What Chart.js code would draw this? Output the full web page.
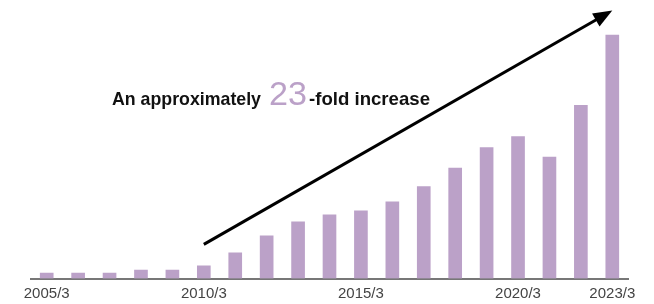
<!DOCTYPE html>
<html>
<head>
<meta charset="utf-8">
<script src="https://cdn.jsdelivr.net/npm/chart.js@4/dist/chart.umd.min.js"></script>
<style>
  html, body { margin: 0; padding: 0; background: #fff; }
  #wrap { width: 654px; height: 304px; }
</style>
</head>
<body>
<div id="wrap"><canvas id="growthChart"></canvas></div>
<script>
// fiscal years (March year-end)
var years = ["2005/3","2006/3","2007/3","2008/3","2009/3","2010/3","2011/3","2012/3","2013/3","2014/3",
	"2015/3","2016/3","2017/3","2018/3","2019/3","2020/3","2021/3","2022/3","2023/3"];
var values = [5.5, 5.5, 5.5, 8.5, 8.5, 12.5, 25.5, 42.5, 56.5, 63.5,
	67.5, 76.5, 91.5, 110, 130.5, 141.5, 121, 172.5, 242.5];
var shownTicks = ["2005/3","2010/3","2015/3","2020/3","2023/3"];

// arrow: [category index, value]
var arrowFrom = [5, 34];
var arrowTo = [18, 267];

var barColor = "#BBA1C8";

// draw text squeezed/stretched to a given width
function fitText(ctx, str, x, y, w) {
	var m = ctx.measureText(str).width;
	ctx.save();
	ctx.translate(x, y);
	ctx.scale(w / m, 1);
	ctx.fillText(str, 0, 0);
	ctx.restore();
}

var arrowPlugin = {
	id: "arrowNote",
	afterDraw: function(chart) {
		var ctx = chart.ctx;
		var xs = chart.scales.x, ys = chart.scales.y;
		var x1 = xs.getPixelForValue(arrowFrom[0]), y1 = ys.getPixelForValue(arrowFrom[1]);
		var x2 = xs.getPixelForValue(arrowTo[0]), y2 = ys.getPixelForValue(arrowTo[1]);
		var ang = Math.atan2(y2 - y1, x2 - x1);
		var headLen = 19, headW = 7.5;
		var bx = x2 - headLen * Math.cos(ang), by = y2 - headLen * Math.sin(ang);

		ctx.save();
		ctx.strokeStyle = "#000";
		ctx.lineWidth = 3;
		ctx.beginPath();
		ctx.moveTo(x1, y1);
		ctx.lineTo(bx + 2 * Math.cos(ang), by + 2 * Math.sin(ang));
		ctx.stroke();

		ctx.fillStyle = "#000";
		ctx.beginPath();
		ctx.moveTo(x2, y2);
		ctx.lineTo(bx + headW * Math.sin(ang), by - headW * Math.cos(ang));
		ctx.lineTo(bx - headW * Math.sin(ang), by + headW * Math.cos(ang));
		ctx.closePath();
		ctx.fill();

		// label
		var ty = 105;
		ctx.textBaseline = "alphabetic";
		ctx.textAlign = "left";
		ctx.font = "bold 19px 'Liberation Sans', Arial";
		ctx.fillStyle = "#111";
		fitText(ctx, "An approximately", 112, ty, 149);
		ctx.font = "33px 'Liberation Sans', Arial";
		ctx.fillStyle = barColor;
		fitText(ctx, "23", 269, ty, 38);
		ctx.font = "bold 19px 'Liberation Sans', Arial";
		ctx.fillStyle = "#111";
		fitText(ctx, "-fold increase", 309, ty, 121);
		ctx.restore();
	}
};

var ctx = document.getElementById("growthChart").getContext("2d");
new Chart(ctx, {
	type: "bar",
	data: {
		labels: years,
		datasets: [{
			data: values,
			backgroundColor: barColor,
			borderWidth: 0,
			barThickness: 13
		}]
	},
	options: {
		responsive: true,
		maintainAspectRatio: false,
		animation: false,
		layout: { padding: { left: 31, right: 26, top: 0, bottom: -4.5 } },
		plugins: {
			legend: { display: false },
			tooltip: { enabled: false }
		},
		scales: {
			x: {
				grid: { display: false, drawTicks: false },
				border: { color: "#777", width: 2 },
				ticks: {
					autoSkip: false,
					maxRotation: 0,
					padding: 6,
					color: "#444",
					font: { family: "'Liberation Sans', Arial", size: 15 },
					callback: function(v) {
						var l = this.getLabelForValue(v);
						return shownTicks.indexOf(l) >= 0 ? l : "";
					}
				}
			},
			y: {
				display: false,
				min: 0,
				max: 277.5
			}
		}
	},
	plugins: [arrowPlugin]
});
</script>
</body>
</html>
